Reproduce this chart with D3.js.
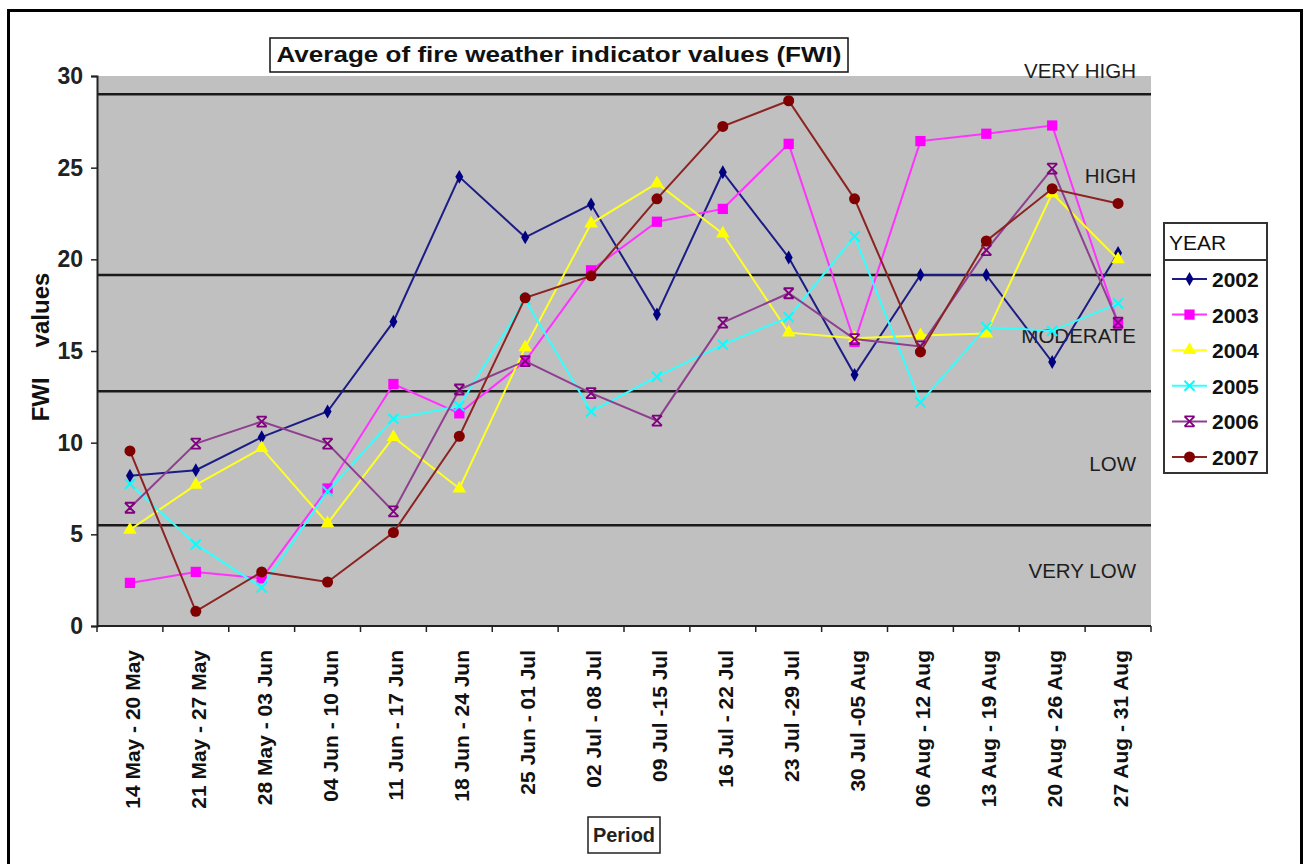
<!DOCTYPE html>
<html>
<head>
<meta charset="utf-8">
<script src="https://cdn.jsdelivr.net/npm/d3@7"></script>
<style>
  html, body { margin: 0; padding: 0; background: #fff; }
  svg { display: block; font-family: "Liberation Sans", Arial, sans-serif; }
</style>
</head>
<body>
<svg id="chart" width="1307" height="864"></svg>
<script>
// ---------- data ----------
const categories = [
  "14 May - 20 May", "21 May - 27 May", "28 May - 03 Jun", "04 Jun - 10 Jun",
  "11 Jun - 17 Jun", "18 Jun - 24 Jun", "25 Jun - 01 Jul", "02 Jul - 08 Jul",
  "09 Jul -15 Jul", "16 Jul - 22 Jul", "23 Jul -29 Jul", "30 Jul -05 Aug",
  "06 Aug - 12 Aug", "13 Aug - 19 Aug", "20 Aug - 26 Aug", "27 Aug - 31 Aug"
];
const years = ["2002", "2003", "2004", "2005", "2006", "2007"];
const fwi2002 = [8.2, 8.5, 10.3, 11.7, 16.6, 24.5, 21.2, 23.0, 17.0, 24.75, 20.1, 13.7, 19.15, 19.15, 14.4, 20.35];
const fwi2003 = [2.35, 2.95, 2.6, 7.5, 13.2, 11.6, 14.45, 19.4, 22.05, 22.75, 26.3, 15.5, 26.45, 26.85, 27.3, 16.5];
const fwi2004 = [5.25, 7.7, 9.7, 5.6, 10.3, 7.5, 15.2, 21.95, 24.15, 21.4, 16.0, 15.7, 15.85, 15.95, 23.6, 20.0];
const fwi2005 = [7.75, 4.45, 2.1, 7.35, 11.3, 12.0, 17.8, 11.7, 13.6, 15.35, 16.85, 21.25, 12.2, 16.3, 16.1, 17.6];
const fwi2006 = [6.45, 9.95, 11.15, 9.95, 6.25, 12.9, 14.45, 12.7, 11.2, 16.55, 18.15, 15.65, 15.25, 20.5, 24.95, 16.55];
const fwi2007 = [9.55, 0.8, 2.95, 2.4, 5.1, 10.35, 17.9, 19.1, 23.3, 27.25, 28.65, 23.3, 14.95, 21.0, 23.85, 23.05];
const yTicks = [0, 5, 10, 15, 20, 25, 30];
const thresholds = [5.5, 12.8, 19.15, 29];
const zoneNames = ["VERY LOW", "LOW", "MODERATE", "HIGH", "VERY HIGH"];
const seriesValues = [fwi2002, fwi2003, fwi2004, fwi2005, fwi2006, fwi2007];

// ---------- styles ----------
const lineColors = ["#1c1c86", "#ff33ff", "#ffff22", "#33ffff", "#8e3f8e", "#8c2323"];
const markColors = ["#000080", "#ff00ff", "#ffff00", "#00ffff", "#800080", "#800000"];
const markerKinds = ["diamond", "square", "triangle", "times", "star", "circle"];

const svg = d3.select("#chart");
const W = 1307, H = 864;
const plot = { left: 97, right: 1151, top: 76, bottom: 626 };

const x = d3.scaleBand().domain(categories).range([plot.left, plot.right]).padding(0);
const y = d3.scaleLinear().domain([0, 30]).range([plot.bottom, plot.top]);
const cx = c => x(c) + x.bandwidth() / 2;

// outer frame
svg.append("rect").attr("x", 8.5).attr("y", 10.5).attr("width", 1293).attr("height", 880)
  .attr("fill", "#fff").attr("stroke", "#000").attr("stroke-width", 3);

// plot background
svg.append("rect").attr("x", plot.left).attr("y", plot.top)
  .attr("width", plot.right - plot.left).attr("height", plot.bottom - plot.top)
  .attr("fill", "#c0c0c0");

// zone threshold lines
svg.append("g").selectAll("line").data(thresholds).join("line")
  .attr("x1", plot.left).attr("x2", plot.right)
  .attr("y1", d => y(d)).attr("y2", d => y(d))
  .attr("stroke", "#1a1a1a").attr("stroke-width", 2.5);

// zone labels
const zoneBaselines = [578, 471, 343, 183, 78];
svg.append("g").selectAll("text").data(zoneNames).join("text")
  .attr("x", 1136).attr("y", (d, i) => zoneBaselines[i])
  .attr("text-anchor", "end").attr("font-size", 20.5).attr("fill", "#1e1e1e")
  .text(d => d);

// y axis
const yAxis = svg.append("g").attr("transform", `translate(${plot.left},0)`)
  .call(d3.axisLeft(y).tickValues(yTicks).tickSize(6).tickPadding(8).tickFormat(d3.format("d")));
yAxis.select(".domain").attr("stroke", "#222").attr("stroke-width", 2);
yAxis.selectAll(".tick line").attr("stroke", "#222").attr("stroke-width", 1.5);
yAxis.selectAll(".tick text").attr("font-size", 23).attr("font-weight", "bold")
  .attr("fill", "#222").attr("font-family", "Liberation Sans, Arial, sans-serif");

// x axis line and boundary ticks
svg.append("line").attr("x1", plot.left).attr("x2", plot.right)
  .attr("y1", plot.bottom).attr("y2", plot.bottom)
  .attr("stroke", "#222").attr("stroke-width", 2);
const bounds = d3.range(categories.length + 1).map(i => plot.left + i * x.step());
svg.append("g").selectAll("line").data(bounds).join("line")
  .attr("x1", d => d).attr("x2", d => d)
  .attr("y1", plot.bottom).attr("y2", plot.bottom + 6)
  .attr("stroke", "#222").attr("stroke-width", 1.5);

// x labels
svg.append("g").selectAll("text").data(categories).join("text")
  .attr("transform", d => `translate(${cx(d) + 10},650) rotate(-90)`)
  .attr("text-anchor", "end").attr("font-size", 21).attr("font-weight", "bold")
  .attr("fill", "#111").text(d => d);

// axis titles
const yl = svg.append("text").attr("transform", "translate(49,347) rotate(-90)")
  .attr("text-anchor", "middle").attr("font-size", 24).attr("font-weight", "bold").attr("fill", "#111");
yl.append("tspan").text("FWI");
yl.append("tspan").attr("dx", 30).text("values");

svg.append("rect").attr("x", 588).attr("y", 817).attr("width", 72).attr("height", 36)
  .attr("fill", "#fff").attr("stroke", "#222").attr("stroke-width", 1.5);
svg.append("text").attr("x", 624).attr("y", 842).attr("text-anchor", "middle")
  .attr("font-size", 20).attr("font-weight", "bold").attr("fill", "#222")
  .attr("textLength", 62).attr("lengthAdjust", "spacingAndGlyphs").text("Period");

// title
svg.append("rect").attr("x", 270).attr("y", 38).attr("width", 578).attr("height", 34)
  .attr("fill", "#fff").attr("stroke", "#111").attr("stroke-width", 1.5);
svg.append("text").attr("x", 559).attr("y", 62).attr("text-anchor", "middle")
  .attr("font-size", 22.5).attr("font-weight", "bold").attr("fill", "#111")
  .attr("textLength", 565).attr("lengthAdjust", "spacingAndGlyphs")
  .text("Average of fire weather indicator values (FWI)");

// marker drawer
function drawMarker(g, kind, color) {
  if (kind === "diamond") {
    g.append("path").attr("d", d3.symbol(d3.symbolDiamond, 55)()).attr("fill", color);
  } else if (kind === "square") {
    g.append("path").attr("d", d3.symbol(d3.symbolSquare, 105)()).attr("fill", color);
  } else if (kind === "triangle") {
    g.append("path").attr("d", d3.symbol(d3.symbolTriangle, 80)()).attr("fill", color);
  } else if (kind === "times") {
    g.append("path").attr("d", "M-5,-5L5,5M-5,5L5,-5").attr("stroke", color).attr("stroke-width", 2).attr("fill", "none");
  } else if (kind === "star") {
    g.append("path").attr("d", "M-5,-5L5,5M-5,5L5,-5M-5,-5L5,-5M-5,5L5,5").attr("stroke", color).attr("stroke-width", 1.8).attr("fill", "none");
  } else {
    g.append("circle").attr("r", 5.5).attr("fill", color);
  }
}

// series
const line = d3.line().x((d, i) => cx(categories[i])).y(d => y(d));
years.forEach((yr, s) => {
  const vals = seriesValues[s];
  const g = svg.append("g");
  g.append("path").datum(vals).attr("d", line)
    .attr("fill", "none").attr("stroke", lineColors[s]).attr("stroke-width", 2);
  vals.forEach((v, i) => {
    const m = g.append("g").attr("transform", `translate(${cx(categories[i])},${y(v)})`);
    drawMarker(m, markerKinds[s], markColors[s]);
  });
});

// legend
const lg = svg.append("g");
lg.append("rect").attr("x", 1164).attr("y", 223).attr("width", 103).attr("height", 250)
  .attr("fill", "#fff").attr("stroke", "#333").attr("stroke-width", 2);
lg.append("line").attr("x1", 1164).attr("x2", 1267).attr("y1", 260).attr("y2", 260)
  .attr("stroke", "#333").attr("stroke-width", 2);
lg.append("text").attr("x", 1169).attr("y", 250).attr("font-size", 21).attr("fill", "#111").text("YEAR");
years.forEach((yr, s) => {
  const cy = 279 + s * 35.6;
  lg.append("line").attr("x1", 1172).attr("x2", 1207).attr("y1", cy).attr("y2", cy)
    .attr("stroke", lineColors[s]).attr("stroke-width", 2);
  const m = lg.append("g").attr("transform", `translate(1189.5,${cy})`);
  drawMarker(m, markerKinds[s], markColors[s]);
  lg.append("text").attr("x", 1212).attr("y", cy + 8).attr("font-size", 21)
    .attr("font-weight", "bold").attr("fill", "#111").text(yr);
});
</script>
</body>
</html>
